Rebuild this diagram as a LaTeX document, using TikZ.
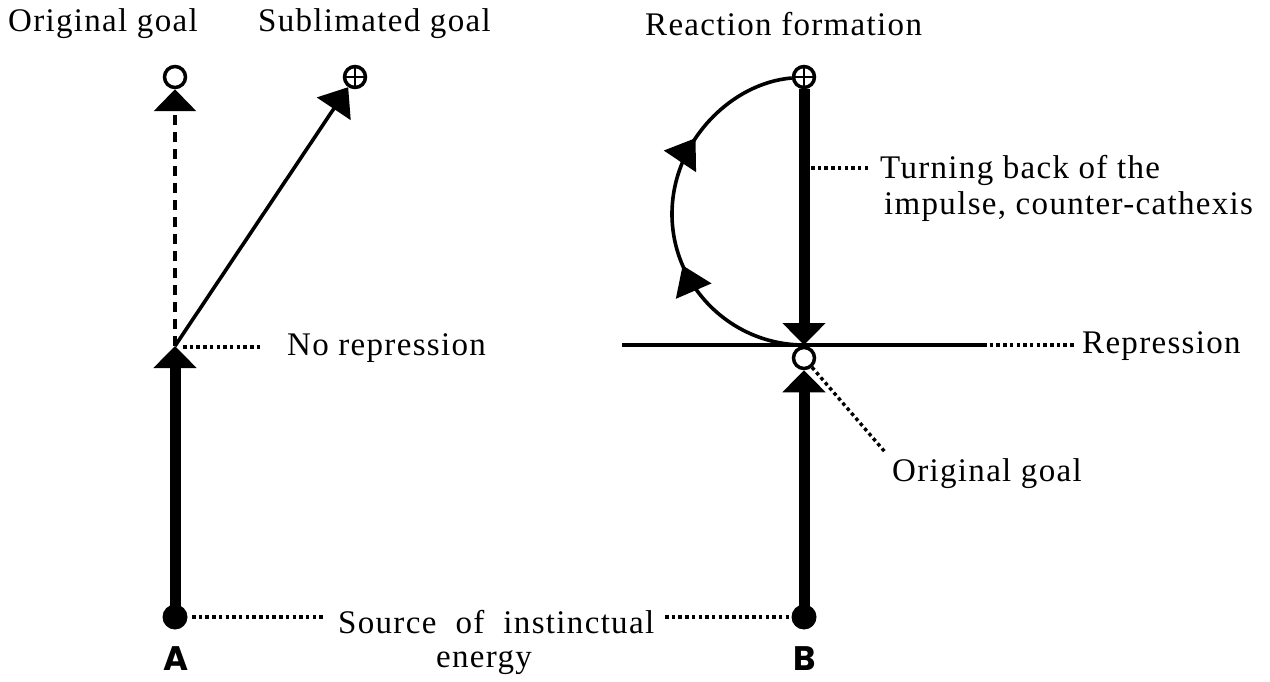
\documentclass[tikz,border=0pt]{standalone}
\usepackage{fontspec}
\setmainfont{Liberation Serif}[LetterSpace=4]
\newfontfamily\labfont{Poppins}
\usetikzlibrary{arrows.meta,decorations.markings}
\tikzset{
  goal/.style={circle,draw,line width=3.5pt,fill=white,minimum size=21pt,inner sep=0pt},
  pgoal/.style={goal,path picture={\draw[line width=2.8pt]
      (path picture bounding box.north)--(path picture bounding box.south)
      (path picture bounding box.west)--(path picture bounding box.east);}},
  src/.style={circle,fill=black,minimum size=25pt,inner sep=0pt},
  heavy/.style={line width=11pt},
  bigtip/.style={-{Triangle[length=22pt,width=42pt]}},
  lead/.style={line width=3.4pt,dash pattern=on 3.5pt off 3.2pt},
  txt/.style={font=\fontsize{33}{38}\selectfont,inner sep=0pt},
  lab/.style={font=\labfont\bfseries\fontsize{34}{38}\selectfont,inner sep=0pt},
  arcarrows/.style={postaction={decorate},decoration={markings,
      mark=at position 0.38 with {\arrow{Triangle[length=28pt,width=38pt]}},
      mark=at position 0.71 with {\arrow{Triangle[length=28pt,width=38pt]}}}}
}
\begin{document}
\begin{tikzpicture}[x=1pt,y=-1pt]
\useasboundingbox[fill=white] (0,0) rectangle (1270,682);

% titles
\node[txt,anchor=west] (t1) at (8,24) {Original goal};
\node[txt,anchor=west] (t2) at (258,24) {Sublimated goal};
\node[txt,anchor=west] (t3) at (645,24) {Reaction formation};

% ---------- A ----------
\node[goal] (ogA) at (175,77) {};
\node[pgoal] (sgA) at (355,77) {};
\coordinate (midA) at (175,346);
\node[src] (srcA) at (175,617) {};
\node[lab,anchor=base] (labA) at (176,670) {A};

\draw[heavy,bigtip] (srcA.center) -- (midA);
\draw[line width=3.6pt,dash pattern=on 10pt off 7pt,bigtip] (midA) -- (ogA);
\draw[line width=3.6pt,-{Triangle[length=26pt,width=40pt]}] (midA) -- (sgA);

\coordinate (nrS) at (183,347);
\coordinate (nrE) at (262,347);
\draw[lead] (nrS) -- (nrE);
\node[txt,anchor=west] (nrep) at (287,348) {No repression};

% ---------- B ----------
\node[pgoal] (sgB) at (804,77) {};
\coordinate (repB) at (804,345);
\node[src] (srcB) at (804,617) {};
\node[lab,anchor=base] (labB) at (805,670) {B};

\coordinate (repL) at (622,345);
\coordinate (repR) at (983,345);
\draw[line width=4pt] (repL) -- (repR);
\coordinate (repD) at (1076,345);
\draw[lead] (repR) -- (repD);
\node[txt,anchor=west] (rep) at (1082,346) {Repression};

\draw[heavy,bigtip] (sgB) -- (repB);
\node[goal] (ogB) at (804,358) {};
\draw[heavy,bigtip] (srcB.center) -- (ogB);

\draw[line width=3.6pt,arcarrows] (repB) .. controls (731,345) and (672,286) .. (672,214)
      .. controls (672,142) and (731,83) .. (sgB);

% turning back label
\coordinate (tbS) at (811,168);
\coordinate (tbE) at (870,168);
\draw[lead] (tbS) -- (tbE);
\node[txt,anchor=west] (tb1) at (880,170) {Turning back of the};
\node[txt,anchor=west] (tb2) at (884,207) {impulse, counter-cathexis};

% original goal (B)
\coordinate (ogE) at (885,452);
\draw[lead] (ogB) -- (ogE);
\node[txt,anchor=west] (og2) at (892,474) {Original goal};

% source label
\coordinate (slA) at (192,617);
\coordinate (slAe) at (323,617);
\coordinate (slBs) at (665,617);
\coordinate (slB) at (790,617);
\draw[lead] (slA) -- (slAe);
\draw[lead] (slBs) -- (slB);
\node[txt,anchor=base west] (srcT) at (338,633) {Source\ \ of\ \ instinctual};
\node[txt,anchor=base] (energy) at (484,667) {energy};
\end{tikzpicture}
\end{document}
